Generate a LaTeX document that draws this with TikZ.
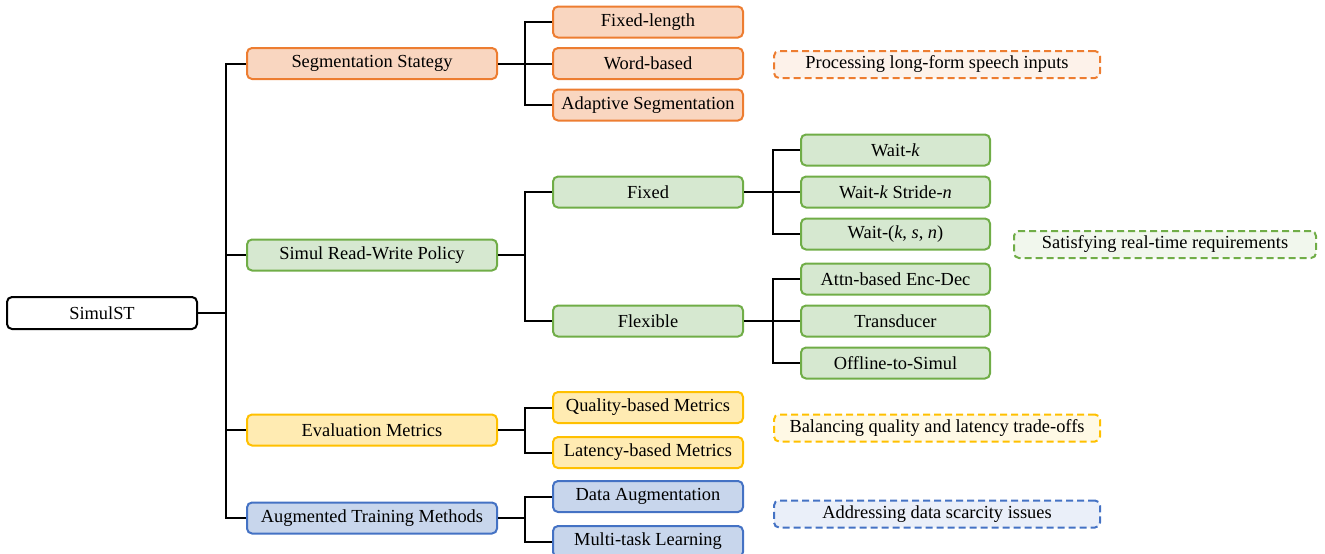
\documentclass[tikz,border=0pt]{standalone}
\usepackage{fontspec}
\setmainfont{Liberation Serif}
\usetikzlibrary{positioning, calc}

\definecolor{segLine}{HTML}{ED7D31}
\definecolor{segFill}{HTML}{F9D6C0}
\definecolor{polLine}{HTML}{70AD47}
\definecolor{polFill}{HTML}{D6E8D0}
\definecolor{evalLine}{HTML}{FFC000}
\definecolor{evalFill}{HTML}{FFEBB2}
\definecolor{augLine}{HTML}{4472C4}
\definecolor{augFill}{HTML}{C8D6EC}

\begin{document}
\begin{tikzpicture}[x=1pt, y=-1pt,
    font=\fontsize{18.4}{22}\selectfont,
    box/.style={draw, rounded corners=5pt, line width=2pt, minimum height=31pt, inner sep=0pt, align=center},
    rootbox/.style={box, draw=black, fill=white, minimum width=190pt, minimum height=32pt},
    lvlone/.style={box, minimum width=250pt},
    lvltwo/.style={box, minimum width=190pt},
    lvlthree/.style={box, minimum width=189pt},
    note/.style={draw, dash pattern=on 7pt off 4pt, rounded corners=5pt, line width=2pt, minimum height=27pt, inner sep=0pt},
    seg/.style={draw=segLine, fill=segFill},
    pol/.style={draw=polLine, fill=polFill},
    eval/.style={draw=evalLine, fill=evalFill},
    aug/.style={draw=augLine, fill=augFill},
    link/.style={line width=2pt, black}
]
    \useasboundingbox (0,0) rectangle (1325,554);

    % Root
    \node[rootbox] (root) at (102, 313) {SimulST};

    % First level
    \node[lvlone, seg] (segStrat) at (372, 63.5) {Segmentation Stategy};
    \node[lvlone, pol] (rwPolicy) at (372, 255) {Simul Read-Write Policy};
    \node[lvlone, eval] (evalMet) at (372, 430) {Evaluation Metrics};
    \node[lvlone, aug] (augTrain) at (372, 518) {Augmented Training Methods};

    % Segmentation children
    \node[lvltwo, seg] (fixLen) at (648, 22) {Fixed-length};
    \node[lvltwo, seg] (wordBased) at (648, 63.5) {Word-based};
    \node[lvltwo, seg] (adaptSeg) at (648, 105) {Adaptive Segmentation};

    % Policy children
    \node[lvltwo, pol] (fixedPol) at (648, 192) {Fixed};
    \node[lvltwo, pol] (flexPol) at (648, 321) {Flexible};

    \node[lvlthree, pol] (waitK) at (895.5, 150) {Wait-\textit{k}};
    \node[lvlthree, pol] (waitKStride) at (895.5, 192) {Wait-\textit{k} Stride-\textit{n}};
    \node[lvlthree, pol] (waitKSN) at (895.5, 234) {Wait-(\textit{k}, \textit{s}, \textit{n})};
    \node[lvlthree, pol] (attnEncDec) at (895.5, 279) {Attn-based Enc-Dec};
    \node[lvlthree, pol] (transd) at (895.5, 321) {Transducer};
    \node[lvlthree, pol] (offSimul) at (895.5, 363) {Offline-to-Simul};

    % Metrics children
    \node[lvltwo, eval] (qualMet) at (648, 407.5) {Quality-based Metrics};
    \node[lvltwo, eval] (latMet) at (648, 452.5) {Latency-based Metrics};

    % Training children
    \node[lvltwo, aug] (dataAug) at (648, 496.5) {Data Augmentation};
    \node[lvltwo, aug] (multiTask) at (648, 541.5) {Multi-task Learning};

    % Notes
    \node[note, draw=segLine, fill=segLine!10, minimum width=326pt] (segNote) at (937, 64.5) {Processing long-form speech inputs};
    \node[note, draw=polLine, fill=polLine!10, minimum width=302pt] (polNote) at (1165, 244.5) {Satisfying real-time requirements};
    \node[note, draw=evalLine, fill=evalLine!10, minimum width=326pt] (evalNote) at (937, 428) {Balancing quality and latency trade-offs};
    \node[note, draw=augLine, fill=augLine!11, minimum width=326pt] (augNote) at (937, 514) {Addressing data scarcity issues};

    % Forks
    \coordinate (rootFork) at (226, 313);
    \coordinate (segFork) at (525, 63.5);
    \coordinate (polFork) at (525, 255);
    \coordinate (fixFork) at (773, 192);
    \coordinate (flexFork) at (773, 321);
    \coordinate (evalFork) at (525, 430);
    \coordinate (augFork) at (525, 518);

    % Connectors
    \draw[link] (root.east) -- (rootFork);
    \foreach \c in {segStrat, rwPolicy, evalMet, augTrain}
        \draw[link] (rootFork) |- (\c.west);

    \draw[link] (segStrat.east) -- (segFork);
    \foreach \c in {fixLen, wordBased, adaptSeg}
        \draw[link] (segFork) |- (\c.west);

    \draw[link] (rwPolicy.east) -- (polFork);
    \foreach \c in {fixedPol, flexPol}
        \draw[link] (polFork) |- (\c.west);

    \draw[link] (fixedPol.east) -- (fixFork);
    \foreach \c in {waitK, waitKStride, waitKSN}
        \draw[link] (fixFork) |- (\c.west);

    \draw[link] (flexPol.east) -- (flexFork);
    \foreach \c in {attnEncDec, transd, offSimul}
        \draw[link] (flexFork) |- (\c.west);

    \draw[link] (evalMet.east) -- (evalFork);
    \foreach \c in {qualMet, latMet}
        \draw[link] (evalFork) |- (\c.west);

    \draw[link] (augTrain.east) -- (augFork);
    \foreach \c in {dataAug, multiTask}
        \draw[link] (augFork) |- (\c.west);
\end{tikzpicture}
\end{document}
